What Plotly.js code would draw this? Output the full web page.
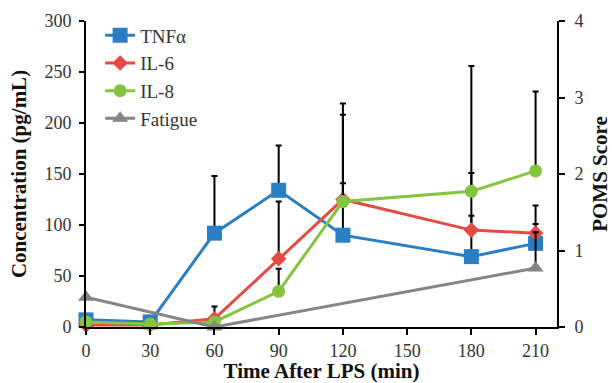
<!DOCTYPE html>
<html><head><meta charset="utf-8">
<script src="https://cdn.plot.ly/plotly-3.0.1.min.js"></script>
<style>body{margin:0;background:#fff}#c{width:612px;height:383px}</style>
</head><body><div id="c"></div>
<script>
const times = [0, 30, 60, 90, 120, 180, 210];
const tnf = [7, 5, 92, 134, 90, 69, 82];
const tnfErr = [0, 0, 56, 44, 51, 40, 19];
const il6 = [2, 2, 8, 67, 125, 95, 92];
const il6Err = [0, 0, 12, 56, 94, 56, 27];
const il8 = [5, 3, 5, 35, 123, 133, 153];
const il8Err = [0, 0, 0, 22, 85, 123, 78];
const fatigueTimes = [0, 60, 210];
const fatigue = [0.39, 0, 0.77];
const fatigueErr = [0, 0, 0.47];
const xTicks = [0, 30, 60, 90, 120, 150, 180, 210];

const eb = (arr) => ({type:'data', symmetric:false, array:arr, arrayminus:arr.map(()=>0), color:'#000', thickness:2, width:3});
const traces = [
  {x:times, y:tnf, name:'TNFα', mode:'lines+markers', line:{color:'#2a7fc4', width:3}, marker:{symbol:'square', size:15, color:'#2a7fc4'}, error_y:eb(tnfErr), cliponaxis:false},
  {x:times, y:il6, name:'IL-6', mode:'lines+markers', line:{color:'#e64b43', width:3}, marker:{symbol:'diamond', size:12, color:'#e64b43'}, error_y:eb(il6Err), cliponaxis:false},
  {x:times, y:il8, name:'IL-8', mode:'lines+markers', line:{color:'#84c441', width:3}, marker:{symbol:'circle', size:13, color:'#84c441'}, error_y:eb(il8Err), cliponaxis:false},
  {x:fatigueTimes, y:fatigue, name:'Fatigue', yaxis:'y2', mode:'lines+markers', line:{color:'#858585', width:3}, marker:{symbol:'triangle-up', size:14, color:'#858585'}, error_y:eb(fatigueErr), cliponaxis:false}
];
const serif = 'Liberation Serif, Times New Roman, serif';
const tf = {family:serif, size:18, color:'#333'};
const titleFont = {family:serif, size:21, color:'#111', weight:'bold'};
const layout = {
  width:612, height:383,
  margin:{l:86, r:55, t:21, b:56},
  paper_bgcolor:'#fff', plot_bgcolor:'#fff',
  showlegend:true,
  legend:{x:0.03, y:1.015, xanchor:'left', yanchor:'top', font:{family:serif, size:19, color:'#333'}, bgcolor:'rgba(0,0,0,0)', tracegroupgap:0, itemwidth:30},
  xaxis:{range:[0,220], tickvals:xTicks, ticktext:xTicks.map(String), showgrid:false, zeroline:false, showline:true, linecolor:'#000', linewidth:2, ticks:'outside', ticklen:6, tickwidth:2, tickcolor:'#000', tickfont:tf,
    title:{text:'Time After LPS (min)', font:titleFont, standoff:2}},
  yaxis:{range:[0,300], dtick:50, showgrid:false, zeroline:false, showline:true, linecolor:'#000', linewidth:2, ticks:'outside', ticklen:5, tickwidth:2, tickcolor:'#000', tickfont:tf, ticklabelstandoff:4,
    title:{text:'Concentration (pg/mL)', font:titleFont, standoff:12}},
  yaxis2:{range:[0,4], dtick:1, overlaying:'y', side:'right', showgrid:false, zeroline:false, showline:true, linecolor:'#000', linewidth:2, ticks:'outside', ticklen:6, tickwidth:2, tickcolor:'#000', tickfont:tf, ticklabelstandoff:6,
    title:{text:'POMS Score', font:titleFont, standoff:10}}
};
Plotly.newPlot('c', traces, layout, {displayModeBar:false, staticPlot:true});
</script></body></html>
